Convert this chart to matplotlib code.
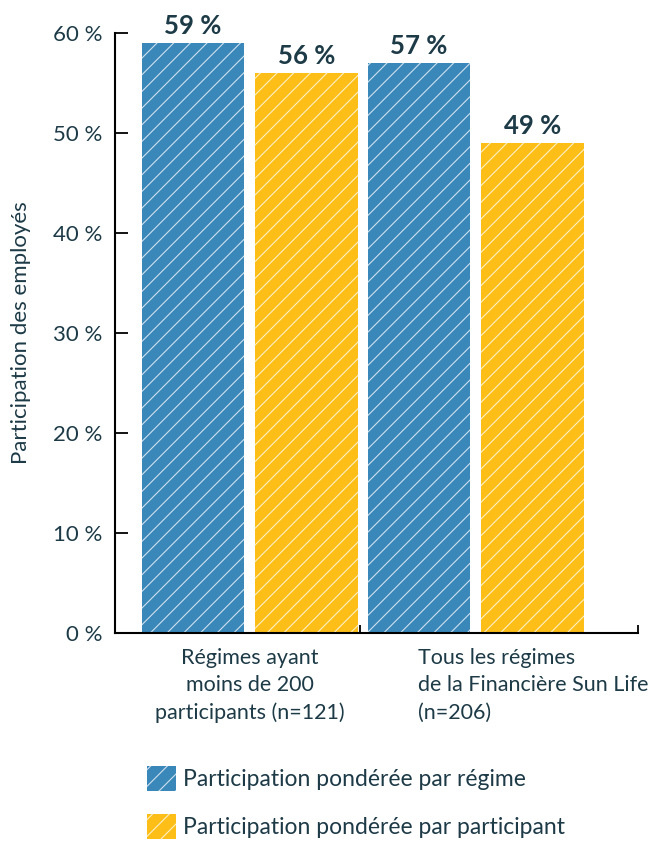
import matplotlib
matplotlib.use("Agg")
import matplotlib.pyplot as plt
import numpy as np
from matplotlib.patches import Patch

plt.rcParams["font.family"] = ["Lato", "DejaVu Sans"]
plt.rcParams["hatch.linewidth"] = 0.8

groups = ["Régimes ayant\nmoins de 200\nparticipants (n=121)",
          "Tous les régimes\nde la Financière Sun Life\n(n=206)"]
series = ["Participation pondérée par régime", "Participation pondérée par participant"]
par_regime = [59, 57]
par_participant = [56, 49]
yticks = [0, 10, 20, 30, 40, 50, 60]

TXT = "#1d3a47"
BLUE = "#3a87ba"
YELLOW = "#fdbe17"
HATCH = (1, 1, 1, 0.75)

fig = plt.figure(figsize=(6.52, 8.42), dpi=100)
ax = fig.add_axes([115/652, 1-633/842, 523/652, 600/842])

x = np.arange(len(groups))
w = 0.455
b1 = ax.bar(x - 0.252, par_regime, w, color=BLUE, edgecolor=HATCH, linewidth=0, hatch="//")
b2 = ax.bar(x + 0.252, par_participant, w, color=YELLOW, edgecolor=HATCH, linewidth=0, hatch="//")

for bars in (b1, b2):
    for bar in bars:
        h = bar.get_height()
        ax.text(bar.get_x() + bar.get_width()/2, h + 0.5, f"{h:.0f} %",
                ha="center", va="bottom", fontsize=18.5, fontweight="bold", color=TXT)

xl = (-0.597, 1.717)
ax.set_xlim(*xl)
ax.set_ylim(0, 60)
ax.set_yticks(yticks)
ax.set_yticklabels([f"{t} %" for t in yticks], fontsize=16, color=TXT)
ax.set_xticks([xl[0], 0.487, xl[1]])
ax.set_xticklabels([])
ax.tick_params(axis="y", direction="in", length=9, width=1.3, pad=9)
ax.tick_params(axis="x", direction="in", length=6, width=1.3)
for s in ("top", "right"):
    ax.spines[s].set_visible(False)
for s in ("left", "bottom"):
    ax.spines[s].set_linewidth(1.5)
ax.set_ylabel("Participation des employés", fontsize=16, color=TXT, labelpad=16)

ax.text(0, -1.5, groups[0], ha="center", va="top", fontsize=15.5, color=TXT,
        linespacing=1.45)
ax.text(0.743, -1.5, groups[1], ha="left", va="top", fontsize=15.5, color=TXT,
        linespacing=1.45)

handles = [Patch(facecolor=BLUE, edgecolor=HATCH, linewidth=0, hatch="//"),
           Patch(facecolor=YELLOW, edgecolor=HATCH, linewidth=0, hatch="//")]
fig.legend(handles, series, loc="upper left", bbox_to_anchor=(126/652, 1-745/842),
           frameon=False, fontsize=16.5, labelcolor=TXT, handlelength=1.3,
           handleheight=1.3, handletextpad=0.3, labelspacing=1.0)

fig.savefig("out.png", dpi=100)
